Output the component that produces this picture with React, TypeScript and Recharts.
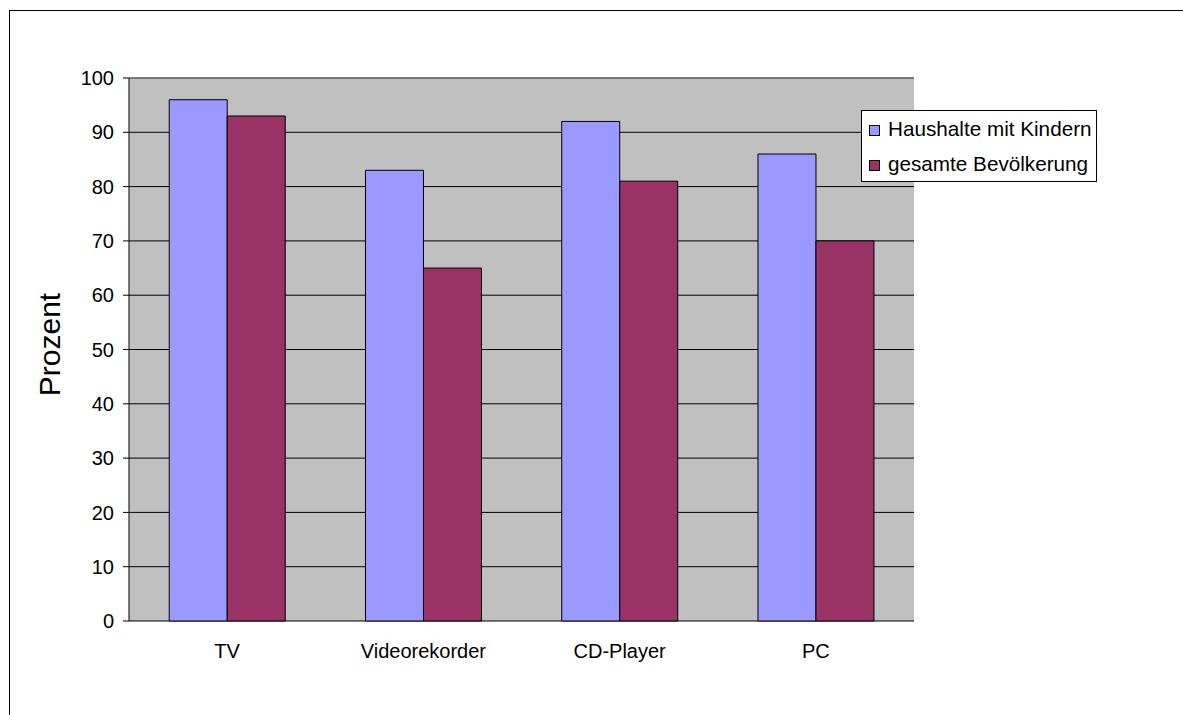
import React from 'react';
import { BarChart, Bar, XAxis, YAxis, CartesianGrid, Legend, ReferenceLine, Label } from 'recharts';

const categories = ['TV', 'Videorekorder', 'CD-Player', 'PC'];
const haushalteMitKindern = [96, 83, 92, 86];
const gesamteBevoelkerung = [93, 65, 81, 70];
const yTicks = [0, 10, 20, 30, 40, 50, 60, 70, 80, 90, 100];
const boundaryTicks = [0, 1, 2, 3, 4];

const seriesNames = ['Haushalte mit Kindern', 'gesamte Bevölkerung'];
const seriesColors = ['#9999FF', '#993366'];

const data = categories.map((c, i) => ({
  name: c,
  a: haushalteMitKindern[i],
  b: gesamteBevoelkerung[i],
}));

const FONT = '"Liberation Sans", Arial, sans-serif';

const LegendBox = () => (
  <svg width={236} height={72} style={{ display: 'block', fontFamily: FONT }}>
    <rect x={0.5} y={0.5} width={235} height={71} fill="#fff" stroke="#000" />
    {seriesNames.map((n, i) => (
      <g key={n}>
        <rect x={8.5} y={15.5 + i * 35} width={10} height={10} fill={seriesColors[i]} stroke="#000" />
        <text x={27} y={26 + i * 35} fontSize={20.7} fill="#000">
          {n}
        </text>
      </g>
    ))}
  </svg>
);

export default function App() {
  return (
    <div style={{ position: 'absolute', left: 0, top: 0, width: 1183, height: 715, overflow: 'hidden', background: '#fff' }}>
      <div style={{ position: 'absolute', left: 9, top: 10, width: 1300, height: 800, border: '1px solid #000' }} />
      <div style={{ position: 'absolute', left: 0, top: 0 }}>
        <BarChart
          width={1183}
          height={715}
          data={data}
          margin={{ top: 78, right: 269, left: 69, bottom: 54 }}
          barCategoryGap="20.5%"
          barGap={0}
          style={{ fontFamily: FONT }}
        >
          <CartesianGrid vertical={false} stroke="#000" fill="#C0C0C0" fillOpacity={1} />
          <XAxis
            xAxisId="num"
            type="number"
            domain={[0, 4]}
            ticks={boundaryTicks}
            tickFormatter={() => ''}
            height={0}
            axisLine={{ stroke: '#000' }}
            tickLine={{ stroke: '#000' }}
            tickSize={6}
            allowDataOverflow
          />
          <XAxis
            xAxisId="cat"
            dataKey="name"
            height={40}
            axisLine={false}
            tickLine={false}
            tickSize={6}
            tickMargin={17}
            tick={{ fill: '#000', fontSize: 20, fontFamily: FONT }}
          />
          <YAxis
            domain={[0, 100]}
            ticks={yTicks}
            width={60}
            axisLine={{ stroke: '#000' }}
            tickLine={{ stroke: '#000' }}
            tickSize={6}
            tickMargin={9}
            tick={{ fill: '#000', fontSize: 20, fontFamily: FONT }}
          >
            <Label
              value="Prozent"
              angle={-90}
              position="left"
              offset={20}
              dy={-5}
              style={{ fontSize: 30, fill: '#000', fontFamily: FONT, textAnchor: 'middle' }}
            />
          </YAxis>
          <ReferenceLine y={100} xAxisId="num" stroke="#808080" />
          <ReferenceLine x={4} xAxisId="num" stroke="#808080" />
          <Bar xAxisId="cat" dataKey="a" name={seriesNames[0]} fill={seriesColors[0]} stroke="#000" strokeWidth={1} isAnimationActive={false} />
          <Bar xAxisId="cat" dataKey="b" name={seriesNames[1]} fill={seriesColors[1]} stroke="#000" strokeWidth={1} isAnimationActive={false} />
          <Legend
            layout="horizontal"
            verticalAlign="middle"
            align="center"
            content={() => <LegendBox />}
            wrapperStyle={{ position: 'absolute', left: 861, top: 110, width: 236, height: 72 }}
          />
        </BarChart>
      </div>
    </div>
  );
}
